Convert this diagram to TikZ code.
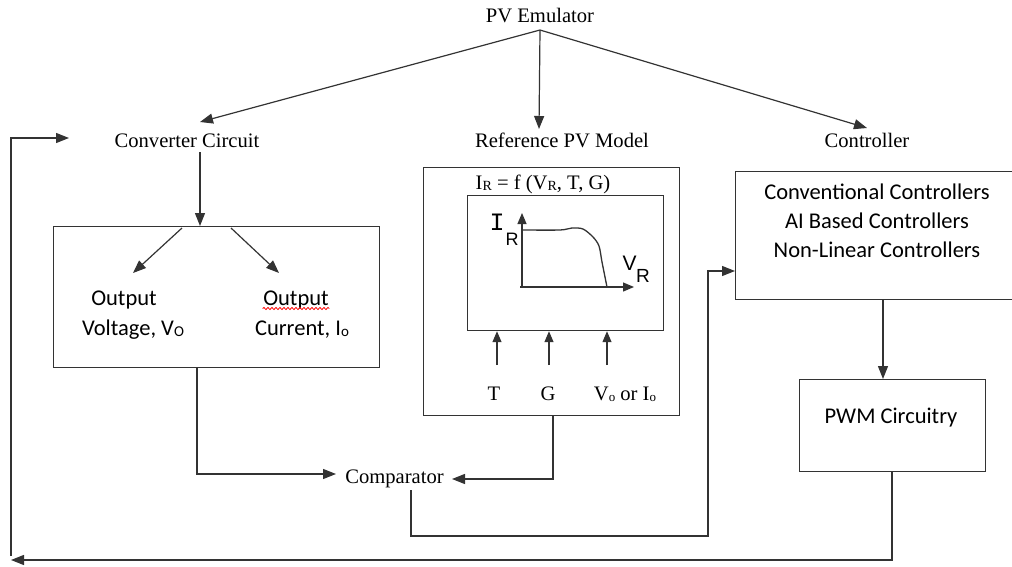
\documentclass[tikz,border=0pt]{standalone}
\usepackage{fontspec}
\setmainfont{Liberation Serif}
\newfontfamily\calfont{Carlito}
\newfontfamily\handfont{Liberation Mono}
\newfontfamily\sansfnt{Liberation Sans}
\usetikzlibrary{arrows.meta,decorations.pathmorphing,calc}
\begin{document}
\begin{tikzpicture}[x=1pt,y=-1pt,
  line width=1.2pt, draw=black!80,
  arr/.style={-{Triangle[length=13pt,width=10pt]}},
  sarr/.style={-{Triangle[length=11pt,width=9pt]}},
  lbl/.style={font=\fontsize{20.6}{24}\selectfont, inner sep=0, anchor=base},
  cal/.style={font=\calfont\fontsize{22.5}{28}\selectfont, inner sep=0, anchor=base},
  box/.style={draw=black!80, inner sep=0, anchor=north west}]
\useasboundingbox (0,0) rectangle (1012,566);

% top level labels
\node[lbl] (emu) at (540,22) {PV Emulator};
\coordinate (emuo) at (540,30);
\node[lbl] (conv) at (187,147) {Converter Circuit};
\node[lbl] (ref) at (562,147) {Reference PV Model};
\node[lbl] (ctrl) at (867,147) {Controller};
\coordinate (convin) at (200,122);
\coordinate (refin) at (539,129);
\coordinate (ctrlin) at (867,128);
\draw[arr] (emuo) -- (convin);
\draw[arr] (emuo) -- (refin);
\draw[arr] (emuo) -- (ctrlin);

% converter box
\node[box, minimum width=326pt, minimum height=141pt] (cbox) at (53,226) {};
\coordinate (convout) at (200,152);
\draw[arr] (convout) -- (convout |- cbox.north);
\coordinate (vsrc) at (182,228);
\coordinate (isrc) at (231,228);
\coordinate (vdst) at (133,273);
\coordinate (idst) at (279,273);
\draw[arr] (vsrc) -- (vdst);
\draw[arr] (isrc) -- (idst);
\node[cal] (vo1) at (124,305) {Output};
\node[cal] (vo2) at (133,335) {Voltage, V\raisebox{-1.5pt}{\fontsize{15}{15}\selectfont O}};
\node[cal] (io1) at (296,305) {Output};
\node[cal] (io2) at (302,335) {Current, I\raisebox{-1pt}{\fontsize{15}{15}\selectfont o}};
\draw[red, line width=0.8pt, decorate, decoration={snake, segment length=4pt, amplitude=1.1pt}]
  ($(io1.base west)+(0,3.5)$) -- ($(io1.base east)+(0,3.5)$);

% reference PV model
\node[box, minimum width=256pt, minimum height=248pt] (rbox) at (423,167) {};
\node[box, minimum width=196pt, minimum height=135pt] (ibox) at (467,195) {};
\node[lbl] (feq) at (543,189) {I\raisebox{-1pt}{\fontsize{14}{14}\selectfont R} = f (V\raisebox{-1pt}{\fontsize{14}{14}\selectfont R}, T, G)};
\coordinate (orig) at (522,287);
\draw[sarr] (orig) -- (522,213);
\draw[sarr] (520,287) -- (634,287);
\draw[line width=1.3pt] plot[smooth, tension=0.5] coordinates {(523,230) (560,230) (572,228) (583,229) (593,237) (599,246) (602,262) (607,287)};
\node[inner sep=0, anchor=base] (irl) at (497,230) {\handfont\fontsize{25}{25}\selectfont I};
\node[inner sep=0, anchor=base] (irs) at (512,245) {\sansfnt\fontsize{18}{18}\selectfont R};
\node[inner sep=0, anchor=base] (vrl) at (629.5,270) {\sansfnt\fontsize{21}{21}\selectfont V};
\node[inner sep=0, anchor=base] (vrs) at (643,282) {\sansfnt\fontsize{19}{19}\selectfont R};
\node[lbl] (tin) at (494,400) {T};
\node[lbl] (gin) at (548,400) {G};
\node[lbl] (voin) at (625,400) {V\raisebox{-1pt}{\fontsize{13}{13}\selectfont o} or I\raisebox{-1pt}{\fontsize{13}{13}\selectfont o}};
\coordinate (ta) at (497,365);
\coordinate (ga) at (549,365);
\coordinate (va) at (607,365);
\draw[sarr] (ta) -- (ta |- ibox.south);
\draw[sarr] (ga) -- (ga |- ibox.south);
\draw[sarr] (va) -- (va |- ibox.south);

% controller
\node[box, minimum width=284pt, minimum height=128pt] (cobox) at (735,171) {};
\node[cal] (c1) at (877,199) {Conventional Controllers};
\node[cal] (c2) at (877,228) {AI Based Controllers};
\node[cal] (c3) at (877,257) {Non-Linear Controllers};

% PWM
\node[box, minimum width=186pt, minimum height=92pt] (pwm) at (799,379) {};
\node[cal] (pwmt) at (891,423) {PWM Circuitry};
\draw[arr] (883,300) -- (883,379);

% comparator
\node[lbl] (comp) at (394.5,483) {Comparator};
\coordinate (cmpl) at (336,474);
\coordinate (cmpr) at (452,479);
\draw[arr] (197,367) |- (cmpl);
\draw[arr] (553,415) |- (cmpr);
\coordinate (cmpd) at (411,490);
\coordinate (ctrlleft) at (735,271);
\draw[arr] (cmpd) -- (411,536) -- (708,536) |- (ctrlleft);

% feedback
\coordinate (fbend) at (11,560);
\draw[arr] (892,471) |- (fbend);
\coordinate (fbstart) at (11,556);
\coordinate (fbtip) at (69,138);
\draw[arr] (fbstart) |- (fbtip);
\end{tikzpicture}
\end{document}
